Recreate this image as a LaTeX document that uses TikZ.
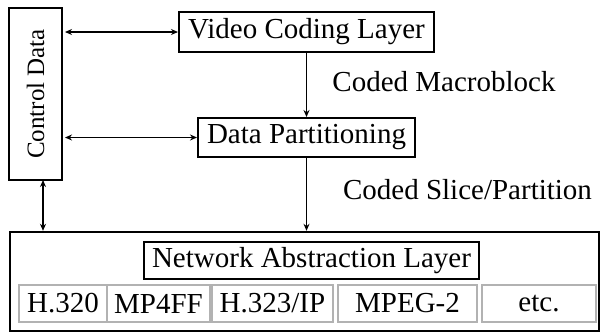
\documentclass[tikz,border=0pt]{standalone}
\usepackage{fontspec}
\setmainfont{Liberation Serif}
\usetikzlibrary{arrows.meta}
\begin{document}
\begin{tikzpicture}[x=1pt,y=-1pt,
  lbl/.style={font=\fontsize{29}{31}\selectfont, inner sep=0pt},
  blockbox/.style={draw=black, line width=2pt, lbl},
  protobox/.style={draw=black!30, line width=1.6pt, lbl, minimum height=37pt},
  link/.style={line width=1.5pt, -{Stealth[length=7pt,width=6pt]}},
  biglink/.style={line width=1.5pt, {Stealth[length=7pt,width=6pt]}-{Stealth[length=7pt,width=6pt]}}]
  \useasboundingbox (0,0) rectangle (601,333);

  % control plane
  \node[blockbox, minimum width=172pt, minimum height=53pt, rotate=90,
        font=\fontsize{25}{27}\selectfont] (ctrl) at (35.5,94) {Control Data};

  % coding chain
  \node[blockbox, minimum width=255pt, minimum height=40pt] (vcl) at (306.5,32) {Video Coding Layer};
  \node[blockbox, minimum width=217pt, minimum height=39pt] (dp) at (306.5,137.5) {Data Partitioning};

  % network layer and transports
  \node[draw=black, line width=2.4pt, minimum width=589pt, minimum height=99pt, inner sep=0pt] (outer) at (304.5,281.5) {};
  \node[blockbox, minimum width=335pt, minimum height=37pt] (nal) at (311.5,260.5) {Network Abstraction Layer};
  \node[protobox, minimum width=88pt] (h320) at (63,303.5) {H.320};
  \node[protobox, minimum width=103pt] (mp4) at (158.5,303.5) {MP4FF};
  \node[protobox, minimum width=121pt] (h323) at (272.5,303.5) {H.323/IP};
  \node[protobox, minimum width=139pt] (mpeg) at (407.5,303.5) {MPEG-2};
  \node[protobox, minimum width=114pt] (etc) at (539,303.5) {etc.};

  % edge labels
  \node[lbl] (lmb) at (444,82) {Coded Macroblock};
  \node[lbl] (lsp) at (467.5,190) {Coded Slice/Partition};

  % connectors
  \draw[biglink] ([xshift=2pt]ctrl.south |- vcl.west) -- (vcl.west);
  \draw[biglink] ([xshift=2pt]ctrl.south |- dp.west) -- (dp.west);
  \draw[link] (vcl.south) -- (dp.north);
  \draw[link] (dp.south) -- (dp.south |- outer.north);
  \coordinate (cb) at (43,180);
  \draw[biglink] (cb) -- (cb |- outer.north);
\end{tikzpicture}
\end{document}
